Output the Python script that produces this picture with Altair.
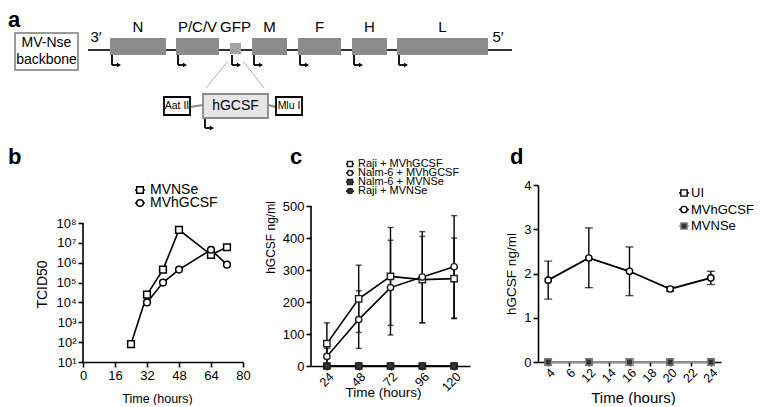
import altair as alt
import pandas as pd

FONT = "Liberation Sans"

# ---------------- panel a : MV-Nse backbone schematic (schematic units) ----------------
backbone_span = [88, 512]
gene_names = ["N", "P/C/V", "GFP", "M", "F", "H", "L"]
gene_start = [110, 176, 230, 252, 298, 352, 397]
gene_end = [166, 219, 241, 287, 341, 387, 488]
gene_top = [38, 38, 43, 38, 38, 38, 38]
gene_bottom = [55, 55, 54, 55, 55, 55, 55]

insert_names = ["Aat II", "hGCSF", "Mlu I"]
insert_start = [164, 203, 276]
insert_end = [190, 268, 302]
insert_top = [97, 94, 97]
insert_bottom = [115, 118, 115]

# ---------------- panel b : growth curves ----------------
b_series = ["MVNSe", "MVhGCSF"]
b_nse_time = [24, 32, 40, 48, 64, 72]
b_nse_tcid = [80, 2.5e4, 4.5e5, 4.5e7, 2.5e6, 6.0e6]
b_gcsf_time = [32, 40, 48, 64, 72]
b_gcsf_tcid = [1.0e4, 1.0e5, 4.5e5, 4.5e6, 8.0e5]
b_xticks = [0, 16, 32, 48, 64, 80]
b_yticks = [1e1, 1e2, 1e3, 1e4, 1e5, 1e6, 1e7, 1e8]

# ---------------- panel c : hGCSF in cell lines ----------------
c_times = ["24", "48", "72", "96", "120"]
c_series = ["Raji + MVhGCSF", "Nalm-6 + MVhGCSF", "Nalm-6 + MVNSe", "Raji + MVNSe"]
c_raji_gcsf = [70, 210, 280, 270, 273]
c_raji_gcsf_lo = [5, 105, 127, 135, 148]
c_raji_gcsf_hi = [135, 315, 433, 405, 400]
c_nalm_gcsf = [30, 145, 245, 278, 310]
c_nalm_gcsf_lo = [5, 55, 97, 135, 150]
c_nalm_gcsf_hi = [55, 235, 393, 420, 470]
c_nalm_nse = [0, 0, 0, 0, 0]
c_raji_nse = [0, 0, 0, 0, 0]
c_yticks = [0, 100, 200, 300, 400, 500]

# ---------------- panel d : hGCSF in patient cells ----------------
d_tick_labels = ["4", "6", "12", "14", "16", "18", "20", "22", "24"]
d_times = ["4", "12", "16", "20", "24"]
d_series = ["UI", "MVhGCSF", "MVNSe"]
d_ui = [0, 0, 0, 0, 0]
d_gcsf = [1.85, 2.35, 2.05, 1.65, 1.9]
d_gcsf_lo = [1.42, 1.68, 1.5, 1.6, 1.75]
d_gcsf_hi = [2.28, 3.03, 2.6, 1.7, 2.05]
d_nse = [0, 0, 0, 0, 0]
d_yticks = [0, 1, 2, 3, 4]


def one(extra=None):
    return alt.Data(values=[extra or {}])


def letter(t, x, y, baseline="alphabetic"):
    return alt.Chart(one()).mark_text(text=t, font=FONT, fontSize=22, fontWeight="bold",
                                      align="left", baseline=baseline, color="black").encode(
        x=alt.value(x), y=alt.value(y))


def manual_legend(names, x, y0, step, font_size, text_dx, stub, point_kw, enc, stub_color=None):
    layers = []
    for i, name in enumerate(names):
        y = y0 + i * step
        d = one({"series": name})
        col = stub_color(name) if stub_color else "black"
        layers.append(alt.Chart(d).mark_rule(color=col, strokeWidth=1.5).encode(
            x=alt.value(x - stub), x2=alt.value(x + stub), y=alt.value(y)))
        layers.append(alt.Chart(d).mark_point(**point_kw).encode(
            x=alt.value(x), y=alt.value(y), **enc))
        layers.append(alt.Chart(d).mark_text(font=FONT, fontSize=font_size, color="black",
                                             align="left", baseline="middle").encode(
            x=alt.value(x + text_dx), y=alt.value(y), text="series:N"))
    return layers


# =============== panel a ===============
A_X0, A_X1 = 83, 754
A_W, A_H = A_X1 - A_X0, 124
ax_scale = alt.Scale(domain=[A_X0, A_X1], nice=False, zero=False)
ay_scale = alt.Scale(domain=[8, 132], nice=False, zero=False, reverse=True)


def AX(f):
    return alt.X(f, type="quantitative", scale=ax_scale, axis=None)


def AY(f):
    return alt.Y(f, type="quantitative", scale=ay_scale, axis=None)


genes = pd.DataFrame({"name": gene_names, "x0": gene_start, "x1": gene_end,
                      "y0": gene_top, "y1": gene_bottom})
inserts = pd.DataFrame({"name": insert_names, "x0": insert_start, "x1": insert_end,
                        "y0": insert_top, "y1": insert_bottom})
promoters = pd.DataFrame({"px": gene_start + [insert_start[1]],
                          "py": [55] * len(gene_start) + [insert_bottom[1]]})
backbone = pd.DataFrame({"x0": [backbone_span[0]], "x1": [backbone_span[1]]})

a_line = alt.Chart(backbone).transform_calculate(y="50").mark_rule(
    color="#333333", strokeWidth=1.8).encode(x=AX("x0"), x2="x1", y=AY("y"))
a_genes = alt.Chart(genes).mark_rect(stroke=None).encode(
    x=AX("x0"), x2="x1", y=AY("y0"), y2="y1",
    color=alt.condition(alt.datum.name == "GFP", alt.value("#a3a3a3"), alt.value("#8c8c8c")))
a_glabels = alt.Chart(genes).transform_calculate(
    cx="(datum.x0 + datum.x1) / 2", ly="27").mark_text(
    font=FONT, fontSize=15, color="black", baseline="middle").encode(
    x=AX("cx"), y=AY("ly"), text="name")
a_ends = alt.Chart(pd.DataFrame({"t": ["3\u2032", "5\u2032"], "x": backbone_span})).transform_calculate(
    tx="datum.x < 300 ? datum.x + 8 : datum.x - 14", ty="37").mark_text(
    font=FONT, fontSize=15, color="black", baseline="middle").encode(
    x=AX("tx"), y=AY("ty"), text="t")
a_pv = alt.Chart(promoters).transform_calculate(
    x="datum.px + 2", y0="datum.py", y1="datum.py + 10").mark_rule(
    color="black", strokeWidth=1.8).encode(x=AX("x"), y=AY("y0"), y2="y1")
a_ph = alt.Chart(promoters).transform_calculate(
    x0="datum.px + 2", x1="datum.px + 8", y="datum.py + 10").mark_rule(
    color="black", strokeWidth=1.8).encode(x=AX("x0"), x2="x1", y=AY("y"))
a_head = alt.Chart(promoters).transform_calculate(
    x="datum.px + 9", y="datum.py + 10").mark_point(
    shape="triangle-right", filled=True, color="black", size=22, opacity=1).encode(
    x=AX("x"), y=AY("y"))
zoom = pd.DataFrame({"x0": [gene_start[2] - 2, gene_end[2] + 2],
                     "x1": [insert_start[1] + 3, insert_end[1] - 4],
                     "y0": [61, 61], "y1": [88, 88]})
a_zoom = alt.Chart(zoom).mark_rule(color="#b0b0b0", strokeWidth=1).encode(
    x=AX("x0"), x2="x1", y=AY("y0"), y2="y1")
conn = pd.DataFrame({"x0": [insert_end[0], insert_end[1]], "x1": [insert_start[1], insert_start[2]],
                     "y0": [107, 105], "y1": [105, 107]})
a_conn = alt.Chart(conn).mark_rule(color="#8a8a8a", strokeWidth=2).encode(
    x=AX("x0"), x2="x1", y=AY("y0"), y2="y1")
a_ins = alt.Chart(inserts).mark_rect(strokeWidth=1.8).encode(
    x=AX("x0"), x2="x1", y=AY("y0"), y2="y1",
    fill=alt.condition(alt.datum.name == "hGCSF", alt.value("#e6e6e6"), alt.value("white")),
    stroke=alt.condition(alt.datum.name == "hGCSF", alt.value("#8a8a8a"), alt.value("black")))
a_ins_t = alt.Chart(inserts).transform_calculate(
    cx="(datum.x0 + datum.x1) / 2", cy="(datum.y0 + datum.y1) / 2").mark_text(
    font=FONT, color="black", baseline="middle").encode(
    x=AX("cx"), y=AY("cy"), text="name",
    size=alt.condition(alt.datum.name == "hGCSF", alt.value(14), alt.value(10.5)))
box = pd.DataFrame({"x0": [15], "x1": [78], "y0": [33], "y1": [70]})
a_box = alt.Chart(box).mark_rect(fill="white", stroke="#9a9a9a", strokeWidth=2).encode(
    x=AX("x0"), x2="x1", y=AY("y0"), y2="y1")
a_box_t = alt.Chart(pd.DataFrame({"t": ["MV-Nse", "backbone"], "y": [43, 60]})).transform_calculate(
    x="46.5").mark_text(font=FONT, fontSize=14, color="black", baseline="middle").encode(
    x=AX("x"), y=AY("y"), text="t")

panel_a = alt.layer(a_line, a_zoom, a_genes, a_glabels, a_ends, a_pv, a_ph, a_head,
                    a_conn, a_ins, a_ins_t, a_box, a_box_t,
                    letter("a", -75, 2, "top")).properties(width=A_W, height=A_H)

# =============== panel b ===============
B_W, B_H = 160, 177
B_TOP = 10 ** (1 + 177 / (139 / 7))
b_df = pd.DataFrame({
    "time": b_nse_time + b_gcsf_time,
    "tcid": b_nse_tcid + b_gcsf_tcid,
    "series": [b_series[0]] * len(b_nse_time) + [b_series[1]] * len(b_gcsf_time)})
sup = "['\u2070','\u00b9','\u00b2','\u00b3','\u2074','\u2075','\u2076','\u2077','\u2078','\u2079']"
bx = alt.X("time:Q", scale=alt.Scale(domain=[0, 80], nice=False),
           axis=alt.Axis(values=b_xticks, title="Time (hours)", titleFontSize=12.5, labelFontSize=13,
                         labelOverlap=False, labelFlush=False, labelBound=False,
                         titleX=74, titleY=36, titleBaseline="middle"))
b_y_scale = alt.Scale(type="log", domain=[10, B_TOP], nice=False)
b_y_axis = alt.Axis(values=b_yticks, domain=False, title="TCID50", titleX=-41, titleY=99,
                    titleBaseline="middle", titleAngle=-90, labelOverlap=False, labelFontSize=13,
                    labelExpr="'10' + " + sup + "[round(log(datum.value) / LN10)]")
by = alt.Y("tcid:Q", scale=b_y_scale, axis=b_y_axis)
b_shape = alt.Scale(domain=b_series, range=["square", "circle"])
b_pt_kw = dict(filled=True, fill="white", stroke="black", strokeWidth=1.5, size=45, opacity=1)
b_line = alt.Chart(b_df).mark_line(color="black", strokeWidth=1.6).encode(x=bx, y=by, detail="series:N")
b_pts = alt.Chart(b_df).mark_point(**b_pt_kw).encode(
    x=bx, y=by, shape=alt.Shape("series:N", scale=b_shape, legend=None))
b_axis = alt.Chart(one()).mark_rule(color="black", strokeWidth=1.6).encode(
    x=alt.value(0), y=alt.YDatum(10, type="quantitative", scale=b_y_scale, axis=b_y_axis),
    y2=alt.datum(1e8))
b_leg = manual_legend(b_series, 57, 5, 13, 14, 10, 5, b_pt_kw,
                      dict(shape=alt.Shape("series:N", scale=b_shape, legend=None)))
panel_b = alt.layer(b_axis, b_line, b_pts, *b_leg, letter("b", -75, -21)).properties(width=B_W, height=B_H)

# =============== panel c ===============
C_W, C_H = 159, 181
C_TOP = 500 * C_H / (C_H - 21)
c_rows = []
for s, v, lo, hi in [(c_series[0], c_raji_gcsf, c_raji_gcsf_lo, c_raji_gcsf_hi),
                     (c_series[1], c_nalm_gcsf, c_nalm_gcsf_lo, c_nalm_gcsf_hi),
                     (c_series[2], c_nalm_nse, c_nalm_nse, c_nalm_nse),
                     (c_series[3], c_raji_nse, c_raji_nse, c_raji_nse)]:
    for t, a, l, h in zip(c_times, v, lo, hi):
        c_rows.append({"t": t, "v": a, "lo": l, "hi": h, "series": s})
c_df = pd.DataFrame(c_rows)
cx = alt.X("t:O", scale=alt.Scale(type="point", domain=c_times, padding=0.5),
           axis=alt.Axis(labelAngle=-45, title="Time (hours)", titleFontSize=13.5, labelFontSize=12.5,
                         labelPadding=0, tickSize=4, titleX=72, titleY=26, titleBaseline="middle"))
cy_axis = alt.Axis(values=c_yticks, domain=False, title="hGCSF ng/ml", titleFontSize=12,
                   titleX=-41, titleY=52, titleBaseline="middle", titleAngle=-90, labelOverlap=False,
                   labelFontSize=13)
cy_scale = alt.Scale(domain=[0, C_TOP], nice=False)
c_shape = alt.Scale(domain=c_series, range=["circle", "square", "triangle-down", "diamond"])
c_fill = alt.Scale(domain=c_series, range=["white", "white", "#333333", "#333333"])
c_pt_kw = dict(filled=True, stroke="#222222", strokeWidth=1.4, opacity=1, size=40)
c_enc = dict(shape=alt.Shape("series:N", scale=c_shape, legend=None),
             fill=alt.Fill("series:N", scale=c_fill, legend=None))
c_err = alt.Chart(c_df).transform_filter("datum.hi > datum.lo").mark_errorbar(
    ticks={"size": 6}, color="black", thickness=1.4).encode(
    x=cx, y=alt.Y("lo:Q", scale=cy_scale, axis=cy_axis), y2="hi:Q")
c_line = alt.Chart(c_df).mark_line(color="black", strokeWidth=1.6).encode(
    x=cx, y=alt.Y("v:Q", scale=cy_scale, axis=cy_axis), detail="series:N")
c_pts = alt.Chart(c_df).mark_point(**c_pt_kw).encode(
    x=cx, y=alt.Y("v:Q", scale=cy_scale, axis=cy_axis), **c_enc)
c_axis = alt.Chart(one()).mark_rule(color="black", strokeWidth=1.6).encode(
    x=alt.value(0), y=alt.YDatum(0, type="quantitative", scale=cy_scale, axis=cy_axis),
    y2=alt.datum(500))
c_leg = manual_legend(c_series, 39, -21, 9, 11, 8, 4, dict(c_pt_kw, size=26), c_enc)
panel_c = alt.layer(c_axis, c_err, c_line, c_pts, *c_leg, letter("c", -21, -21)).properties(
    width=C_W, height=C_H)

# =============== panel d ===============
D_W, D_H = 183, 177
d_rows = []
for s, v, lo, hi in [(d_series[0], d_ui, d_ui, d_ui), (d_series[1], d_gcsf, d_gcsf_lo, d_gcsf_hi),
                     (d_series[2], d_nse, d_nse, d_nse)]:
    for t, a, l, h in zip(d_times, v, lo, hi):
        d_rows.append({"t": t, "v": a, "lo": l, "hi": h, "series": s})
d_df = pd.DataFrame(d_rows)
dx = alt.X("t:O", scale=alt.Scale(type="point", domain=d_tick_labels, padding=0.5),
           axis=alt.Axis(labelAngle=-45, title="Time (hours)", titleFontSize=15, labelFontSize=12.5,
                         labelPadding=0, tickSize=4, titleX=95, titleY=35, titleBaseline="middle"))
dy_scale = alt.Scale(domain=[0, 4], nice=False)
dy_axis = alt.Axis(values=d_yticks, title="hGCSF ng/ml", titleFontSize=13.5, labelFontSize=13,
                   titleX=-27, titleBaseline="middle", titleAngle=-90)
d_color = alt.Scale(domain=d_series, range=["black", "black", "#8c8c8c"])
d_shape = alt.Scale(domain=d_series, range=["square", "circle", "triangle-up"])
d_fill = alt.Scale(domain=d_series, range=["black", "white", "#8c8c8c"])
d_pt_kw = dict(filled=True, strokeWidth=1.4, opacity=1, size=40)
d_enc = dict(shape=alt.Shape("series:N", scale=d_shape, legend=None),
             fill=alt.Fill("series:N", scale=d_fill, legend=None),
             stroke=alt.Stroke("series:N", scale=d_color, legend=None))
d_err = alt.Chart(d_df).transform_filter("datum.hi > datum.lo").mark_errorbar(
    ticks={"size": 8}, color="black", thickness=1.4).encode(
    x=dx, y=alt.Y("lo:Q", scale=dy_scale, axis=dy_axis), y2="hi:Q")
d_line = alt.Chart(d_df).mark_line(strokeWidth=1.8).encode(
    x=dx, y=alt.Y("v:Q", scale=dy_scale, axis=dy_axis), detail="series:N",
    color=alt.Color("series:N", scale=d_color, legend=None))
d_pts = alt.Chart(d_df).mark_point(**d_pt_kw).encode(
    x=dx, y=alt.Y("v:Q", scale=dy_scale, axis=dy_axis), **d_enc)
d_leg = manual_legend(d_series, 146, 8, 16.5, 13, 7, 5, d_pt_kw, d_enc,
                      stub_color=lambda n: "#8c8c8c" if n == "MVNSe" else "black")
panel_d = alt.layer(d_line, d_err, d_pts, *d_leg, letter("d", -28, -21)).properties(
    width=D_W, height=D_H)

bottom = alt.hconcat(panel_b, panel_c, panel_d, spacing=68, bounds="flush")
chart = alt.vconcat(panel_a, bottom, spacing=14).properties(padding=0).configure_view(
    stroke=None).configure_axis(
    labelFont=FONT, titleFont=FONT, labelFontSize=14, titleFontSize=14, titleFontWeight="normal",
    labelColor="black", titleColor="black", domainColor="black", tickColor="black",
    domainWidth=1.6, tickWidth=1.6, tickSize=5, grid=False, labelPadding=2)

chart.save("out.html", embed_options={"renderer": "svg", "actions": False})
